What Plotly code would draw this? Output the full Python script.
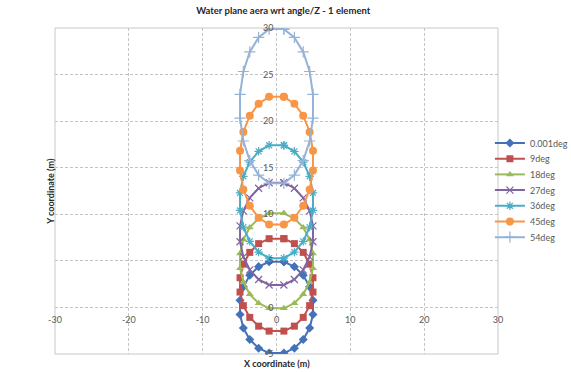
import plotly.graph_objects as go

# ---- data ----
series_names = ["0.001deg", "9deg", "18deg", "27deg", "36deg", "45deg", "54deg"]

x_coords = [1.0, 2.42, 3.62, 4.49, 4.94, 4.94, 4.49, 3.62, 2.42, 1.0,
            -1.0, -2.42, -3.62, -4.49, -4.94, -4.94, -4.49, -3.62, -2.42, -1.0, 1.0]

y_0001 = [4.90, 4.38, 3.45, 2.21, 0.76, -0.76, -2.21, -3.45, -4.38, -4.90,
          -4.90, -4.38, -3.45, -2.21, -0.76, 0.76, 2.21, 3.45, 4.38, 4.90, 4.90]
y_9 = [7.38, 6.85, 5.91, 4.65, 3.19, 1.65, 0.19, -1.07, -2.01, -2.54,
       -2.54, -2.01, -1.07, 0.19, 1.65, 3.19, 4.65, 5.91, 6.85, 7.38, 7.38]
y_18 = [10.10, 9.55, 8.59, 7.29, 5.79, 4.21, 2.71, 1.41, 0.45, -0.10,
        -0.10, 0.45, 1.41, 2.71, 4.21, 5.79, 7.29, 8.59, 9.55, 10.10, 10.10]
y_27 = [13.39, 12.80, 11.76, 10.37, 8.75, 7.05, 5.43, 4.04, 3.00, 2.41,
        2.41, 3.00, 4.04, 5.43, 7.05, 8.75, 10.37, 11.76, 12.80, 13.39, 13.39]
y_36 = [17.41, 16.76, 15.61, 14.08, 12.29, 10.41, 8.62, 7.09, 5.94, 5.29,
        5.29, 5.94, 7.09, 8.62, 10.41, 12.29, 14.08, 15.61, 16.76, 17.41, 17.41]
y_45 = [22.61, 21.88, 20.58, 18.84, 16.81, 14.69, 12.66, 10.92, 9.62, 8.89,
        8.89, 9.62, 10.92, 12.66, 14.69, 16.81, 18.84, 20.58, 21.88, 22.61, 22.61]
y_54 = [29.88, 28.99, 27.43, 25.33, 22.88, 20.32, 17.87, 15.77, 14.21, 13.32,
        13.32, 14.21, 15.77, 17.87, 20.32, 22.88, 25.33, 27.43, 28.99, 29.88, 29.88]

y_series = [y_0001, y_9, y_18, y_27, y_36, y_45, y_54]

x_ticks = [-30, -20, -10, 0, 10, 20, 30]
y_ticks = [-5, 0, 5, 10, 15, 20, 25, 30]

# ---- styling ----
colors = ["#4472B8", "#C0504D", "#9BBB59", "#8064A2", "#4BACC6", "#F79646", "#95B3D7"]
symbols = ["diamond", "square", "triangle-up", "x-thin-open", "asterisk-open", "circle", "cross-thin-open"]
sizes = [7, 7, 7, 7, 7, 8, 8]

FONT = "Lato, Liberation Sans, sans-serif"
TXT = "#595959"
W, H = 571, 372

fig = go.Figure()
legend_layouts = {}
for i, (name, ys, c, s, sz) in enumerate(zip(series_names, y_series, colors, symbols, sizes)):
    thin = s.endswith("-open")
    lg = "legend" if i == 0 else f"legend{i + 1}"
    fig.add_trace(go.Scatter(
        x=x_coords, y=ys, name=name, mode="lines+markers", legend=lg,
        line=dict(color=c, width=2),
        marker=dict(symbol=s, size=sz, color=c,
                    line=dict(color=c, width=1.2 if thin else 0)),
    ))
    yc = 143 + 15.7 * i
    legend_layouts[lg] = dict(xref="container", yref="container", x=0.858, y=1 - yc / H,
                              xanchor="left", yanchor="middle",
                              font=dict(family=FONT, size=9, color=TXT),
                              bgcolor="rgba(0,0,0,0)", borderwidth=0)

fig.update_layout(
    width=W, height=H,
    margin=dict(l=55, r=73, t=28, b=18, autoexpand=False),
    paper_bgcolor="white", plot_bgcolor="white",
    font=dict(family=FONT, size=9, color=TXT),
    title=dict(text="<b>Water plane aera wrt angle/Z - 1 element</b>",
               x=0.496, xanchor="center", y=0.972, yanchor="middle",
               font=dict(family=FONT, size=9.5, color="#262626")),
    showlegend=True,
    xaxis=dict(range=[-30, 30], domain=[0, 1], tickvals=x_ticks,
               ticktext=[str(v) for v in x_ticks],
               anchor="free", position=5 / 35, side="bottom",
               showgrid=True, gridcolor="#c4c4c4", gridwidth=1, griddash="3px,2px",
               zeroline=False, showline=False, ticks="", ticklabelstandoff=6,
               tickfont=dict(family=FONT, size=9, color=TXT),
               title=None),
    yaxis=dict(range=[-5, 30], domain=[0, 1], tickvals=y_ticks,
               ticktext=[str(v) for v in y_ticks],
               anchor="free", position=0.5, side="left",
               showgrid=True, gridcolor="#c4c4c4", gridwidth=1, griddash="3px,2px",
               zeroline=False, showline=False, ticks="", ticklabelstandoff=3,
               tickfont=dict(family=FONT, size=9, color=TXT),
               title=None),
    **legend_layouts,
)

# plot area border
fig.add_shape(type="rect", xref="paper", yref="paper", x0=0, y0=0, x1=1, y1=1,
              line=dict(color="#c8c8c8", width=1), layer="below")

# axis titles (placed like the reference)
fig.add_annotation(text="<b>X coordinate (m)</b>", xref="paper", yref="paper",
                   x=0.5, y=-0.028, xanchor="center", yanchor="middle",
                   showarrow=False, font=dict(family=FONT, size=9, color="#262626"))
fig.add_annotation(text="<b>Y coordinate (m)</b>", xref="paper", yref="paper",
                   x=-0.012, y=0.5, xanchor="center", yanchor="middle", textangle=-90,
                   showarrow=False, font=dict(family=FONT, size=9, color="#262626"))

fig.write_html("out.html", config={"displayModeBar": False},
               post_script="document.body.style.margin='0';")
